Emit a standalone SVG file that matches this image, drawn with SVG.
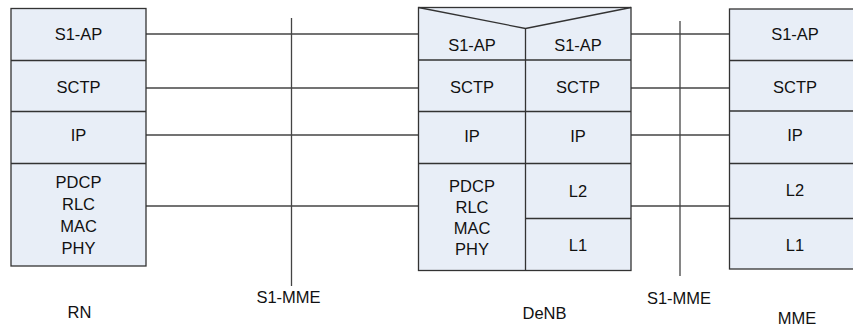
<svg xmlns="http://www.w3.org/2000/svg" width="853" height="327" viewBox="0 0 853 327">
<style>
.box{fill:#e8eef7;stroke:#333;stroke-width:1.3}
.div{stroke:#333;stroke-width:1.3;fill:none}
.con{stroke:#444;stroke-width:1.3;fill:none}
text{font-family:"Liberation Sans",Arial,sans-serif;font-size:16.5px;fill:#111;text-anchor:middle}
</style>
<rect width="853" height="327" fill="#fff"/>
<g id="connectors">
<line class="con" x1="146" y1="34" x2="418" y2="34"/>
<line class="con" x1="146" y1="88" x2="418" y2="88"/>
<line class="con" x1="146" y1="135" x2="418" y2="135"/>
<line class="con" x1="146" y1="206" x2="418" y2="206"/>
<line class="con" x1="631" y1="34" x2="729" y2="34"/>
<line class="con" x1="631" y1="88" x2="729" y2="88"/>
<line class="con" x1="631" y1="135" x2="729" y2="135"/>
<line class="con" x1="631" y1="206" x2="729" y2="206"/>
<line class="con" x1="291.5" y1="18" x2="291.5" y2="286"/>
<line class="con" x1="680" y1="21" x2="680" y2="276"/>
</g>
<g id="RN">
<rect class="box" x="11" y="8.5" width="135" height="257.5"/>
<line class="div" x1="11" y1="60.5" x2="146" y2="60.5"/>
<line class="div" x1="11" y1="111.5" x2="146" y2="111.5"/>
<line class="div" x1="11" y1="163.5" x2="146" y2="163.5"/>
<text x="78.5" y="40">S1-AP</text>
<text x="78.5" y="92.5">SCTP</text>
<text x="78.5" y="141">IP</text>
<text x="78.5" y="188">PDCP</text>
<text x="78.5" y="210">RLC</text>
<text x="78.5" y="232">MAC</text>
<text x="78.5" y="253.5">PHY</text>
<text x="79.5" y="318">RN</text>
</g>
<g id="DeNB">
<rect class="box" x="418.5" y="7.5" width="212.5" height="263"/>
<polyline class="div" points="418.5,7.5 525.5,28.5 631,7.5"/>
<line class="div" x1="525.5" y1="28.5" x2="525.5" y2="270.5"/>
<line class="div" x1="418.5" y1="60" x2="631" y2="60"/>
<line class="div" x1="418.5" y1="111.5" x2="631" y2="111.5"/>
<line class="div" x1="418.5" y1="163.5" x2="631" y2="163.5"/>
<line class="div" x1="525.5" y1="218.5" x2="631" y2="218.5"/>
<text x="472" y="50.5">S1-AP</text>
<text x="578" y="50.5">S1-AP</text>
<text x="472" y="92.5">SCTP</text>
<text x="578" y="92.5">SCTP</text>
<text x="472" y="141.5">IP</text>
<text x="578" y="141.5">IP</text>
<text x="472" y="192">PDCP</text>
<text x="472" y="213">RLC</text>
<text x="472" y="234">MAC</text>
<text x="472" y="254.5">PHY</text>
<text x="578" y="196.5">L2</text>
<text x="578" y="251">L1</text>
<text x="544.5" y="318.5">DeNB</text>
</g>
<g id="MME">
<rect class="box" x="729.5" y="9" width="133" height="260"/>
<line class="div" x1="729.5" y1="60.5" x2="862" y2="60.5"/>
<line class="div" x1="729.5" y1="111" x2="862" y2="111"/>
<line class="div" x1="729.5" y1="163.5" x2="862" y2="163.5"/>
<line class="div" x1="729.5" y1="218.5" x2="862" y2="218.5"/>
<text x="795" y="40">S1-AP</text>
<text x="795" y="92.5">SCTP</text>
<text x="795" y="141">IP</text>
<text x="795" y="196">L2</text>
<text x="795" y="251">L1</text>
<text x="797" y="324">MME</text>
</g>
<g id="labels">
<text x="288.5" y="303">S1-MME</text>
<text x="679" y="304">S1-MME</text>
</g>
</svg>
